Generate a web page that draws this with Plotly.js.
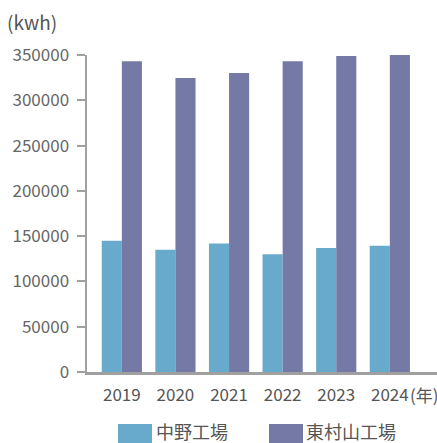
<!DOCTYPE html>
<html>
<head>
<meta charset="utf-8">
<script src="https://cdn.plot.ly/plotly-3.0.1.min.js"></script>
<style>html,body{margin:0;padding:0;background:#fff;}#chart{width:437px;height:443px;}</style>
</head>
<body>
<div id="chart"></div>
<script>
const years = ["2019", "2020", "2021", "2022", "2023", "2024"];
const nakano = [145000, 135000, 142000, 130000, 137000, 139500];
const higashimurayama = [343000, 324500, 330000, 343000, 349000, 350000];
const seriesNames = ["中野工場", "東村山工場"];
const colors = ["#67AACB", "#7579A5"];
const yTicks = [0, 50000, 100000, 150000, 200000, 250000, 300000, 350000];

const FONT = "'Noto Sans CJK JP', 'Noto Sans', sans-serif";
const W = 437, H = 443, L = 87, R = 0, T = 55, B = 71;
const pw = W - L - R, ph = H - T - B;
const px = x => (x - L) / pw;
const py = y => (H - B - y) / ph;

const traces = [
  {type: "bar", x: years, y: nakano, name: seriesNames[0], marker: {color: colors[0]}, hoverinfo: "x+y+name"},
  {type: "bar", x: years, y: higashimurayama, name: seriesNames[1], marker: {color: colors[1]}, hoverinfo: "x+y+name"}
];

const shapes = [
  {type: "rect", xref: "paper", yref: "paper", x0: px(118), x1: px(152), y0: py(424), y1: py(446), fillcolor: colors[0], line: {width: 0}},
  {type: "rect", xref: "paper", yref: "paper", x0: px(269), x1: px(303), y0: py(424), y1: py(446), fillcolor: colors[1], line: {width: 0}}
];

const annotations = [
  {text: "(kwh)", xref: "paper", yref: "paper", x: px(5), y: py(22), xanchor: "left", yanchor: "middle", showarrow: false, font: {family: FONT, size: 19, color: "#555"}},
  {text: "(年)", xref: "paper", yref: "paper", x: px(408), y: py(394), xanchor: "left", yanchor: "middle", showarrow: false, font: {family: FONT, size: 17, color: "#555"}},
  {text: seriesNames[0], xref: "paper", yref: "paper", x: px(154), y: py(431), xanchor: "left", yanchor: "middle", showarrow: false, font: {family: FONT, size: 18, color: "#555"}},
  {text: seriesNames[1], xref: "paper", yref: "paper", x: px(304), y: py(431), xanchor: "left", yanchor: "middle", showarrow: false, font: {family: FONT, size: 18, color: "#555"}}
];

const layout = {
  width: W, height: H,
  margin: {l: L, r: R, t: T, b: B, pad: 0},
  paper_bgcolor: "#fff", plot_bgcolor: "#fff",
  barmode: "group", bargap: 0.25, bargroupgap: 0,
  showlegend: false,
  font: {family: FONT, size: 17, color: "#555"},
  xaxis: {
    type: "category", range: [-0.65, 5.88], fixedrange: true,
    showline: true, linecolor: "#a0a0a0", linewidth: 3,
    showgrid: false, zeroline: false, ticks: "",
    tickfont: {family: FONT, size: 17, color: "#555"},
    ticklabelstandoff: 6
  },
  yaxis: {
    range: [0, 350000], fixedrange: true,
    tickvals: yTicks, ticktext: yTicks.map(String),
    showline: true, linecolor: "#a0a0a0", linewidth: 2.5,
    showgrid: false, zeroline: false,
    ticks: "outside", ticklen: 8, tickwidth: 2, tickcolor: "#a0a0a0",
    tickfont: {family: FONT, size: 17, color: "#666"},
    ticklabelstandoff: 4
  },
  shapes: shapes,
  annotations: annotations
};

Plotly.newPlot("chart", traces, layout, {displayModeBar: false, staticPlot: true});
</script>
</body>
</html>
